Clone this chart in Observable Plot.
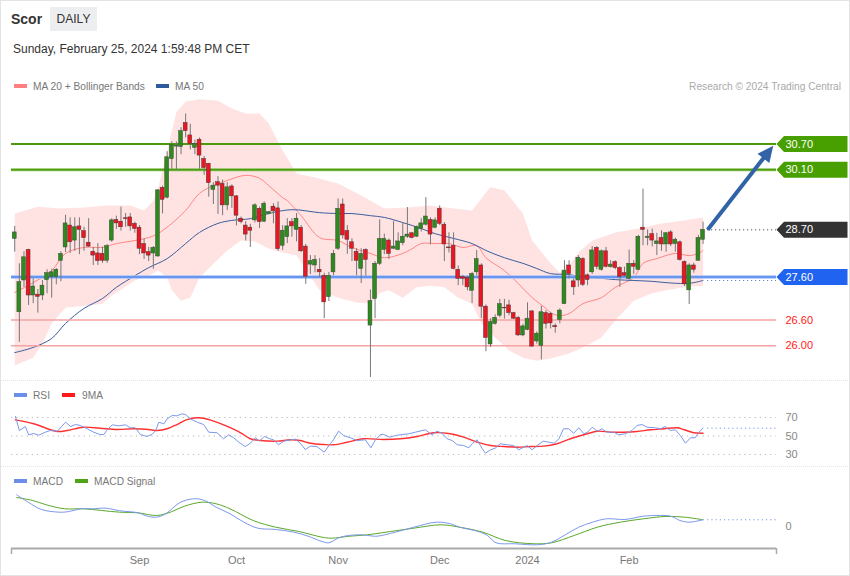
<!DOCTYPE html>
<html>
<head>
<meta charset="utf-8">
<script src="https://cdn.jsdelivr.net/npm/d3@7"></script>
<script src="https://cdn.jsdelivr.net/npm/@observablehq/plot@0.6"></script>
<style>
  html,body{margin:0;padding:0;background:#fff;}
  body{font-family:"Liberation Sans",Arial,Helvetica,sans-serif;}
  #wrap{position:relative;width:850px;height:576px;overflow:hidden;background:#fff;}
  #frame{position:absolute;left:0;top:0;width:848px;height:574px;border:1px solid #e3e3e3;pointer-events:none;}
  .abs{position:absolute;white-space:nowrap;line-height:13px;}
  #title{left:11px;top:11px;font-size:14px;font-weight:bold;color:#333;line-height:16px;}
  #period{left:50px;top:7px;width:47px;height:24px;line-height:24px;background:#eceef0;color:#333;font-size:12px;text-align:center;}
  #date{left:13px;top:42px;font-size:12px;color:#333;line-height:14px;}
  .legend{font-size:10.2px;color:#777;}
  .sw{position:absolute;width:13px;height:4px;}
  .sep{position:absolute;left:0;width:850px;height:0;border-top:1px dotted #e4e4e4;}
  .plot{position:absolute;left:0;}
</style>
</head>
<body>
<div id="wrap">
  <div class="abs" id="title">Scor</div>
  <div class="abs" id="period">DAILY</div>
  <div class="abs" id="date">Sunday, February 25, 2024 1:59:48 PM CET</div>

  <div class="sw" style="left:14px;top:84px;background:#ff8080"></div>
  <div class="abs legend" style="left:33px;top:80px">MA 20 + Bollinger Bands</div>
  <div class="sw" style="left:156px;top:84px;background:#2f5a9e"></div>
  <div class="abs legend" style="left:175px;top:80px">MA 50</div>
  <div class="abs legend" style="right:9px;top:80px;color:#aaa">Research © 2024 Trading Central</div>

  <div class="sep" style="top:380px"></div>
  <div class="sw" style="left:14px;top:393px;background:#6b8ee8"></div>
  <div class="abs legend" style="left:33px;top:389px">RSI</div>
  <div class="sw" style="left:62px;top:393px;background:#ff1a1a"></div>
  <div class="abs legend" style="left:82px;top:389px">9MA</div>

  <div class="sep" style="top:466px"></div>
  <div class="sw" style="left:14px;top:479px;background:#6b8ee8"></div>
  <div class="abs legend" style="left:33px;top:475px">MACD</div>
  <div class="sw" style="left:75px;top:479px;background:#4ea317"></div>
  <div class="abs legend" style="left:94px;top:475px">MACD Signal</div>

  <div class="plot" id="main" style="top:95px"></div>
  <div class="plot" id="rsi" style="top:400px"></div>
  <div class="plot" id="macd" style="top:485px"></div>
  <div id="frame"></div>
</div>
<script>
// ---------- DATA (candle index k: 0 = 26 Jul 2023 ... 149 = 23 Feb 2024) ----------
const openP  = [28.49,26.78,27.52,28.23,27.17,27.19,27.17,27.53,27.60,27.60,27.98,28.29,28.80,28.45,28.78,28.67,28.40,28.19,28.15,28.14,
  27.98,28.45,28.93,28.89,28.97,28.99,28.84,28.75,28.37,28.18,28.15,28.08,29.68,29.45,30.35,30.64,30.63,31.19,30.90,30.61,
  30.80,30.35,30.24,29.63,29.81,29.77,29.27,29.71,29.48,28.96,28.80,28.75,28.92,29.19,28.89,29.07,29.24,29.20,28.33,28.53,
  28.88,28.70,28.75,28.31,27.89,27.87,27.77,27.63,27.13,27.71,28.26,29.29,28.67,28.41,28.19,27.79,28.23,26.47,27.09,27.91,
  28.23,28.45,28.26,28.23,28.39,28.54,28.62,28.54,28.72,28.82,28.93,28.75,29.19,28.82,28.29,28.33,27.77,27.60,27.58,27.28,
  27.71,27.87,26.91,26.03,26.51,26.70,26.88,26.94,26.76,26.65,26.24,26.37,26.80,26.10,26.00,26.76,26.74,26.46,26.60,26.97,
  27.87,27.50,27.52,28.02,27.64,27.71,28.28,27.77,28.20,27.83,27.95,27.81,27.69,27.56,27.91,27.77,28.75,28.51,28.60,28.37,
  28.51,28.36,28.64,28.37,28.41,27.95,27.29,27.87,27.98,28.47];
const highP  = [28.78,27.91,28.19,28.25,27.56,27.31,27.52,27.77,27.78,27.80,28.19,29.04,28.98,28.98,28.98,28.76,28.96,28.29,28.38,28.30,
  28.36,28.96,29.02,29.23,29.08,29.08,28.88,28.80,28.49,28.29,28.31,29.64,29.72,30.52,30.75,30.75,31.08,31.40,31.16,30.79,
  30.84,30.41,30.25,29.80,29.94,29.86,29.80,29.75,29.50,29.00,28.89,28.83,29.31,29.23,29.35,29.13,29.31,29.35,28.80,28.96,
  28.96,29.08,28.80,28.36,28.10,28.10,28.03,27.69,27.71,28.22,29.42,29.42,28.80,28.49,28.26,28.26,28.26,27.30,27.96,28.93,
  28.60,28.49,28.90,28.63,28.87,29.22,28.64,28.79,28.96,29.45,28.98,28.98,29.26,28.87,28.63,28.63,27.86,27.64,27.62,27.71,
  28.22,27.91,26.95,26.63,26.72,27.08,27.08,27.06,26.78,26.68,26.50,27.00,26.82,26.32,26.92,26.82,26.78,26.51,26.86,27.98,
  27.98,27.56,28.10,28.05,27.67,28.31,28.31,28.23,28.29,27.98,27.98,27.84,27.83,28.23,27.98,28.57,29.65,28.70,28.72,28.62,
  28.68,28.64,28.68,28.51,28.44,27.98,27.91,27.92,28.57,28.88];
const lowP   = [28.18,26.08,27.36,26.94,26.98,26.76,27.05,27.21,27.11,27.42,27.49,28.17,28.15,28.20,28.12,28.20,28.29,27.87,27.87,27.92,
  27.92,28.41,28.71,28.67,28.76,28.67,28.62,28.12,28.01,27.96,27.78,28.06,29.07,29.42,30.11,30.08,30.45,30.84,30.56,30.45,
  30.11,29.97,29.46,29.29,29.06,29.03,29.15,29.20,28.79,28.84,28.44,28.29,28.86,28.73,28.87,29.05,28.84,28.20,28.22,28.38,
  28.53,28.42,28.17,27.43,27.66,27.70,27.59,26.63,27.03,27.63,28.22,28.49,28.13,27.96,27.63,27.45,27.62,25.26,26.63,27.87,
  28.12,28.01,28.24,28.22,28.33,28.50,28.49,28.52,28.65,28.79,28.35,28.72,28.80,27.96,28.16,27.77,27.40,27.40,27.28,26.98,
  27.63,26.63,25.86,25.96,26.48,26.65,26.62,26.70,26.61,26.22,26.21,26.35,25.97,26.04,25.67,26.39,26.39,26.29,26.51,26.96,
  27.56,27.17,27.36,27.38,27.40,27.66,27.77,27.74,27.81,27.81,27.77,27.36,27.60,27.53,27.66,27.75,28.33,28.33,28.30,28.10,
  28.20,28.18,28.31,28.18,27.97,27.38,26.96,27.69,27.97,28.36];
const closeP = [28.64,27.48,28.06,27.17,27.38,27.14,27.40,27.69,27.71,27.77,28.14,28.85,28.41,28.76,28.70,28.51,28.31,28.10,27.97,27.98,
  28.32,28.92,28.85,28.76,28.95,28.78,28.72,28.26,28.15,28.10,28.28,29.62,29.40,30.39,30.67,30.66,31.00,31.00,30.70,30.70,
  30.43,30.14,29.79,29.73,29.73,29.27,29.69,29.48,29.03,28.88,28.59,28.68,29.27,28.88,29.31,29.11,29.13,28.25,28.68,28.78,
  28.78,28.96,28.20,27.61,27.97,28.00,27.71,27.01,27.63,28.14,29.19,28.57,28.47,28.26,27.98,28.14,28.00,27.04,27.91,28.49,
  28.49,28.14,28.31,28.43,28.54,28.59,28.51,28.76,28.85,29.01,28.59,28.92,28.84,28.36,28.27,27.79,27.56,27.56,27.36,27.67,
  28.02,26.91,26.18,26.55,26.65,26.97,26.87,26.76,26.63,26.24,26.45,26.63,25.98,26.28,26.78,26.51,26.52,26.43,26.82,27.75,
  27.67,27.36,28.05,27.42,27.53,28.22,27.84,28.20,27.84,27.89,27.81,27.60,27.63,27.91,27.84,28.54,28.70,28.54,28.45,28.43,
  28.36,28.62,28.36,28.47,28.00,27.43,27.87,27.77,28.51,28.70];

// Bollinger bands
const upK = [0,5,10,15,20,25,28,30,31,33,35,37,40,44,47,50,53,55,58,61,65,70,75,80,85,90,95,99,102,103,106,110,112,116,118,120,122,125,130,135,140,145,149];
const upV = [29.08,29.24,29.20,29.22,29.27,29.27,29.15,29.38,29.66,30.55,31.44,31.69,31.74,31.71,31.53,31.41,31.41,31.18,30.55,30.01,29.92,29.78,29.50,29.20,29.22,29.27,29.20,29.15,29.57,29.69,29.62,29.08,28.45,27.92,27.70,27.87,28.17,28.45,28.64,28.73,28.85,28.92,28.99];
const loK = [0,4,6,8,11,16,19,21,26,29,31,33,34,36,38,40,43,46,49,52,55,58,61,66,70,74,77,79,81,84,87,90,93,96,99,101,104,107,110,113,116,120,123,127,130,134,138,141,145,149];
const loV = [25.54,25.72,26.05,26.52,26.89,26.94,26.98,27.17,27.52,27.63,27.75,27.59,27.29,27.05,27.12,27.59,27.91,28.22,28.45,28.43,28.26,28.17,28.10,27.29,27.12,27.01,26.98,27.22,27.29,27.12,27.36,27.40,27.36,27.12,26.98,26.52,26.19,25.89,25.72,25.65,25.70,25.82,25.96,26.19,26.59,27.05,27.22,27.29,27.36,27.40];
const ma20K = [0,4,8,11,15,19,22,26,29,31,34,37,40,43,46,50,53,55,58,59,62,66,70,73,77,80,84,86,88,91,94,97,100,102,106,109,112,115,116,118,120,123,127,130,134,136,139,143,146,148,149];
const ma20V = [27.24,27.47,27.75,28.15,28.29,28.29,28.38,28.45,28.52,28.61,28.85,29.15,29.55,29.73,29.85,29.97,29.90,29.73,29.45,29.38,29.03,28.52,28.45,28.29,28.15,28.05,28.15,28.26,28.38,28.38,28.38,28.29,28.33,28.05,27.75,27.45,27.12,26.87,26.77,26.70,26.75,26.98,27.12,27.36,27.59,27.92,28.03,28.15,28.10,28.15,28.22];
const ma50K = [0,4,8,11,15,19,22,26,29,33,37,40,44,47,51,55,60,66,70,73,77,80,84,88,91,95,99,102,106,110,113,116,120,123,127,130,134,138,141,145,147,149];
const ma50V = [25.84,25.96,26.17,26.52,26.87,27.10,27.36,27.63,27.82,28.03,28.38,28.64,28.85,28.92,28.96,29.08,29.17,29.10,29.08,29.08,29.03,28.99,28.87,28.73,28.61,28.50,28.38,28.22,28.05,27.92,27.80,27.68,27.66,27.59,27.57,27.54,27.52,27.50,27.47,27.45,27.47,27.52];

// Levels and target
const resistance = [30.70, 30.10];
const pivot = 27.60;
const support = [26.60, 26.00];
const lastPrice = 28.70;
const targetFrom = [150, 28.70];
const targetTo = [164.2, 30.66];

// RSI (14) and its 9-period MA
const rsiK = [0.15,1.0,2.3,3.0,4.1,5.2,6.6,7.7,9.2,11.0,12.1,13.1,14.2,15.7,17.1,18.5,19.3,20.0,21.1,22.5,24.0,25.0,26.1,27.2,28.6,29.7,30.5,31.2,32.3,33.0,
  34.1,35.1,36.2,37.0,38.0,39.5,40.9,42.0,43.8,45.2,46.3,47.4,48.5,49.9,51.0,52.1,53.0,54.0,55.2,56.0,57.1,58.2,59.7,60.8,61.8,62.9,64.0,65.4,67.0,68.3,
  69.0,70.1,71.2,72.7,74.1,75.9,77.1,78.1,79.2,79.9,81.2,82.4,83.8,85.3,86.7,88.9,90.3,91.4,92.5,93.6,94.7,95.8,97.2,98.3,99.0,100.1,101.2,101.9,103.0,104.0,
  105.1,106.6,108.0,109.1,110.9,112.0,113.1,114.4,115.6,116.8,117.8,118.8,119.9,121.0,122.1,123.2,124.0,125.0,126.1,127.1,128.2,129.7,130.7,132.2,133.6,134.7,135.8,136.9,138.7,139.8,
  140.8,141.9,143.0,144.1,145.2,146.3,147.3,148.1,149.0];
const rsiV = [71.1,55.9,60.3,51.3,52.7,50.9,54.1,55.9,55.2,64.9,60.3,62.4,61.4,57.8,54.1,51.6,51.6,56.7,62.1,61.0,62.1,58.9,58.9,51.6,49.5,51.6,55.9,64.9,63.2,68.6,
  72.2,71.8,74.0,73.2,68.6,64.9,62.4,54.1,53.5,47.0,51.3,48.1,43.3,38.6,42.2,48.1,44.4,49.5,47.0,45.9,40.5,44.4,45.9,46.5,42.2,35.4,39.0,38.6,32.5,41.6,
  45.9,55.2,50.5,48.0,45.1,45.9,37.2,45.9,51.6,51.6,48.7,50.5,51.6,52.4,54.1,56.7,51.3,55.2,53.0,47.0,45.1,40.5,39.7,37.2,41.6,45.9,36.2,31.4,35.1,36.8,
  41.6,40.5,39.7,35.1,39.7,35.1,39.7,44.4,43.3,42.2,47.0,57.8,57.8,53.0,58.9,52.4,54.1,59.5,55.2,57.8,54.1,54.1,51.3,52.4,55.9,61.4,62.4,59.5,58.9,57.8,
  60.3,55.9,56.7,50.5,42.2,48.1,48.1,54.1,58.4];
const rsiMaK = [0.15,4.1,9.2,11.3,14.9,18.5,22.2,25.8,29.4,30.8,33,35.1,37.3,39.5,40.9,43.1,46,48.9,51,53.2,56.8,59.7,61.8,64,66.9,69,72,75.5,79.9,83.5,
  87.1,90.7,94.3,97.2,100.1,103,105.9,108.7,111.6,114.5,117.4,120.3,123.2,126.1,129,131.8,134.7,137.6,140.5,143.4,144.8,147,149];
const rsiMaV = [67.5,63.2,54.9,55.9,59.5,58.4,57.0,57.8,56.7,55.9,57.8,62.4,67.8,69.7,69.2,66.0,60.3,53.5,47.0,45.1,44.4,45.9,45.1,42.2,40.8,40.5,43.3,47.0,46.2,47.0,
  49.5,53.5,52.4,48.7,43.3,39.7,38.6,37.9,38.6,39.0,41.6,47.0,51.3,55.2,54.1,54.1,54.9,56.7,57.8,58.9,57.0,53.5,53.0];
const rsiLevels = [70, 50, 30];

// MACD and signal
const macdK = [0.4,2.9,5.8,9.8,11.8,14.3,16.8,19.8,22.7,26.7,28.7,30.7,32.7,35.7,38.7,41.1,43.6,46.6,49.6,52.6,56.5,60.5,63.5,66.5,68,70.5,74.4,76.4,78.4,82.4,
  86.4,91.3,94.3,96.3,100.3,102.3,104.2,108.2,113.2,116.2,119.2,122.1,125.1,128.1,132.1,136.1,139,142,144,146,149];
const macdV = [0.528,0.405,0.283,0.238,0.250,0.295,0.295,0.305,0.262,0.228,0.172,0.155,0.212,0.395,0.462,0.433,0.322,0.212,0.072,-0.028,-0.050,-0.095,-0.162,-0.250,-0.272,-0.178,-0.138,-0.150,-0.162,-0.095,
  -0.012,0.072,0.045,-0.012,-0.083,-0.150,-0.272,-0.288,-0.305,-0.262,-0.138,-0.012,0.072,0.128,0.117,0.172,0.183,0.172,0.100,0.072,0.112];
const sigK = [0.4,3.9,6.8,10.8,14.8,18.8,22.7,26.7,30.7,33.7,36.7,40.6,43.6,46.6,51.6,56.5,61.5,66.5,68.5,72.5,76.4,81.4,86.4,92.3,96.3,101.3,106.2,112.2,116.2,121.1,126.1,131.1,136.1,141,145,149];
const sigV = [0.483,0.433,0.362,0.295,0.295,0.267,0.238,0.228,0.183,0.238,0.338,0.405,0.378,0.295,0.100,-0.012,-0.083,-0.178,-0.195,-0.162,-0.138,-0.083,-0.028,0.028,-0.012,-0.095,-0.233,-0.288,-0.272,-0.150,-0.012,0.072,0.128,0.167,0.155,0.112];

// x axis ticks (first trading day of each month)
const tickPos = [27, 48, 70, 92, 111, 133];
const tickLabels = ["Sep", "Oct", "Nov", "Dec", "2024", "Feb"];

// ---------- BUILD ----------
const xMin = -0.7, xMax = 164.9;
const yMin = 25.19, yMax = 31.83;
const W = 850, mL = 11, mR = 74, mainH = 285;
const lastK = closeP.length - 1;
const green = "#2e8a1e", red = "#ec1622";
const font = "Liberation Sans, Arial, Helvetica, sans-serif";
const common = {
  width: W, marginLeft: mL, marginRight: mR, marginTop: 0,
  x: {domain: [xMin, xMax], axis: null, label: null},
  style: {fontFamily: font, fontSize: "11px", overflow: "visible", background: "transparent"}
};
const pts = (K, V) => K.map((k, i) => ({k, v: V[i]}));
const candles = openP.map((o, k) => ({k, o, h: highP[k], l: lowP[k], c: closeP[k]}));
const upC = candles.filter(d => d.c >= d.o), dnC = candles.filter(d => d.c < d.o);
const band = pts(upK, upV).concat(pts(loK, loV).reverse());
const tagSymbol = {draw(ctx) { ctx.moveTo(0, 0); ctx.lineTo(7.5, -8); ctx.lineTo(71, -8); ctx.lineTo(71, 8); ctx.lineTo(7.5, 8); ctx.closePath(); }};
const headSymbol = {draw(ctx) { ctx.moveTo(0, 0); ctx.lineTo(7.5, 16); ctx.lineTo(-7.5, 16); ctx.closePath(); }};
// arrow direction in screen space, from the scale configuration
const pxK = (W - mL - mR) / (xMax - xMin), pxP = mainH / (yMax - yMin);
const arrowAngle = Math.atan2((targetTo[0] - targetFrom[0]) * pxK, (targetTo[1] - targetFrom[1]) * pxP) * 180 / Math.PI;
const tag = (v, color) => Plot.dot([v], {x: () => xMax, y: d => d, symbol: tagSymbol, r: 5, fill: color, stroke: null});
const tagText = (vals, color) => Plot.text(vals, {x: () => xMax, y: d => d, text: d => d.toFixed(2), dx: 9, textAnchor: "start", fill: color, fontSize: 11});

const main = Plot.plot({
  ...common, height: mainH, marginBottom: 0,
  y: {domain: [yMin, yMax], axis: null},
  marks: [
    Plot.line(band, {x: "k", y: "v", fill: "#ffe3e3", stroke: "none", curve: "linear"}),
    Plot.line(pts(ma20K, ma20V), {x: "k", y: "v", stroke: "#ff8585", strokeWidth: 1, curve: "catmull-rom"}),
    Plot.line(pts(ma50K, ma50V), {x: "k", y: "v", stroke: "#3a5d9c", strokeWidth: 1, curve: "catmull-rom"}),
    Plot.ruleY([resistance[0]], {stroke: "#4a9a0a", strokeWidth: 2}),
    Plot.ruleY([resistance[1]], {stroke: "#8cc45a", strokeWidth: 3}),
    Plot.ruleY([resistance[1]], {stroke: "#4e9c12", strokeWidth: 1.6}),
    Plot.ruleY([pivot], {stroke: "#a9c2f7", strokeWidth: 3.5}),
    Plot.ruleY([pivot], {stroke: "#5286ee", strokeWidth: 1.6}),
    Plot.ruleY(support, {stroke: "#f6a3a3", strokeWidth: 1.4}),
    Plot.ruleY([lastPrice], {x1: () => lastK + 1, x2: () => xMax, stroke: "#333", strokeDasharray: "1,3"}),
    Plot.ruleY([ma50V[ma50V.length - 1]], {x1: () => lastK + 1, x2: () => xMax, stroke: "#4a6fb0", strokeDasharray: "1,3"}),
    Plot.ruleX(candles, {x: "k", y1: "l", y2: "h", stroke: "#777", strokeWidth: 1}),
    Plot.rect(upC, {x1: d => d.k - 0.42, x2: d => d.k + 0.42, y1: "o", y2: "c", fill: green, stroke: "#3b4a35", strokeWidth: 0.5}),
    Plot.rect(dnC, {x1: d => d.k - 0.42, x2: d => d.k + 0.42, y1: "o", y2: "c", fill: red, stroke: "#4a3535", strokeWidth: 0.5}),
    Plot.arrow([0], {x1: () => targetFrom[0], y1: () => targetFrom[1], x2: () => targetTo[0], y2: () => targetTo[1],
      stroke: "#3163a6", strokeWidth: 4, headLength: 0, insetEnd: 10, strokeLinecap: "butt"}),
    Plot.dot([0], {x: () => targetTo[0], y: () => targetTo[1], symbol: headSymbol, r: 5, rotate: arrowAngle, fill: "#3163a6", stroke: null}),
    tag(resistance[0], "#48a000"), tag(resistance[1], "#48a000"), tag(lastPrice, "#333333"), tag(pivot, "#1f63f0"),
    tagText([...resistance, lastPrice, pivot], "#ffffff"),
    tagText(support, "#ff2020")
  ]
});
document.getElementById("main").appendChild(main);

const rsi = Plot.plot({
  ...common, height: 66, marginBottom: 0,
  y: {domain: [17.0, 88.4], axis: null},
  marks: [
    Plot.ruleY(rsiLevels, {stroke: "#b8b8b8", strokeDasharray: "1.2,4"}),
    Plot.line(pts(rsiMaK, rsiMaV), {x: "k", y: "v", stroke: "#ff3030", strokeWidth: 1.4, curve: "catmull-rom"}),
    Plot.line(pts(rsiK, rsiV), {x: "k", y: "v", stroke: "#7b98ec", strokeWidth: 1}),
    Plot.ruleY([rsiV[rsiV.length - 1]], {x1: () => lastK + 1, x2: () => xMax, stroke: "#7b98ec", strokeDasharray: "1.2,3"}),
    Plot.text(rsiLevels, {x: () => xMax, y: d => d, text: d => String(d), dx: 9, textAnchor: "start", fill: "#888", fontSize: 11})
  ]
});
document.getElementById("rsi").appendChild(rsi);

const macd = Plot.plot({
  ...common, height: 85, marginBottom: 22,
  y: {domain: [-0.367, 0.683], axis: null},
  marks: [
    Plot.line(pts(sigK, sigV), {x: "k", y: "v", stroke: "#5aa82a", strokeWidth: 1, curve: "catmull-rom"}),
    Plot.line(pts(macdK, macdV), {x: "k", y: "v", stroke: "#7b98ec", strokeWidth: 1, curve: "catmull-rom"}),
    Plot.ruleY([macdV[macdV.length - 1]], {x1: () => lastK + 1, x2: () => xMax, stroke: "#7b98ec", strokeDasharray: "1.2,3"}),
    Plot.text([0], {x: () => xMax, y: d => d, text: () => "0", dx: 9, textAnchor: "start", fill: "#888", fontSize: 11}),
    Plot.ruleY([-0.367], {stroke: "#aaa", strokeWidth: 2}),
    Plot.axisX({ticks: [xMin, xMax], tickSize: 6, tickFormat: () => "", stroke: "#aaa", strokeWidth: 1.5, label: null}),
    Plot.axisX({ticks: tickPos, tickSize: 0, tickPadding: 8, tickFormat: d => tickLabels[tickPos.indexOf(d)], fill: "#777", fontSize: 11, label: null})
  ]
});
document.getElementById("macd").appendChild(macd);
</script>
</body>
</html>
